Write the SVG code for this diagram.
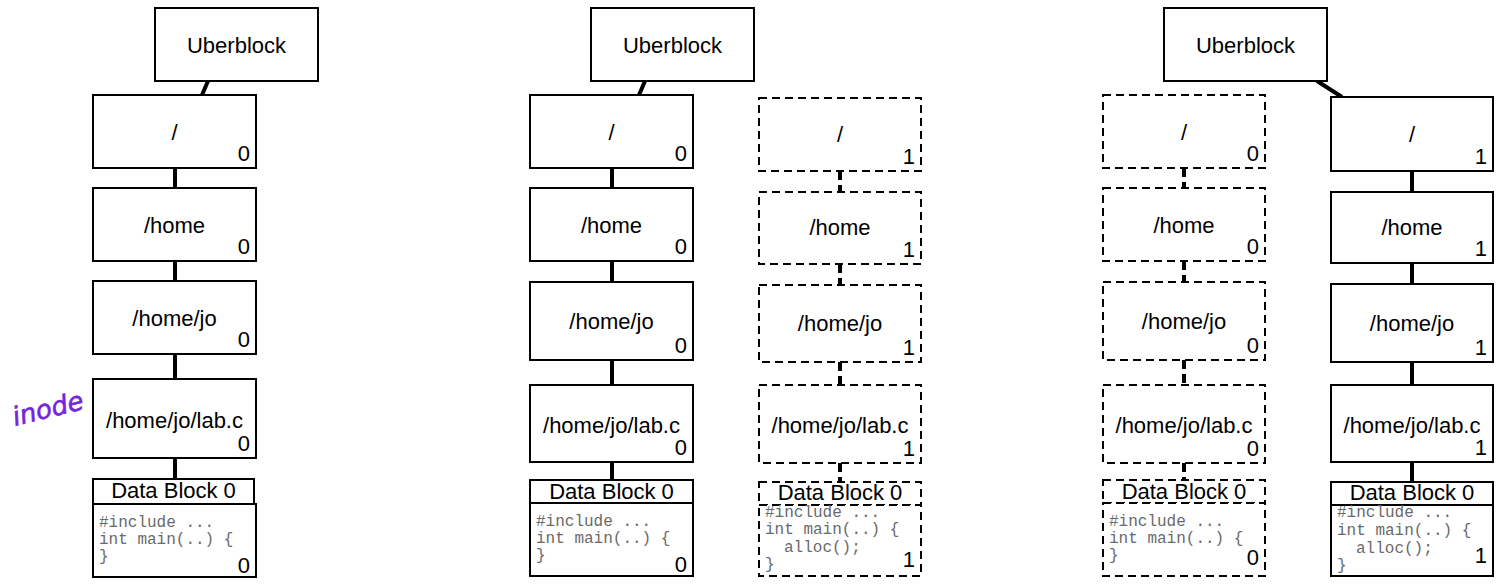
<svg xmlns="http://www.w3.org/2000/svg" width="1501" height="584" viewBox="0 0 1501 584">
  <style>
    .box { fill: #fff; stroke: #000; stroke-width: 2; }
    .dbox { fill: #fff; stroke: #000; stroke-width: 2; stroke-dasharray: 8 5; }
    .lbl { font-family: "Liberation Sans", Arial, sans-serif; font-size: 22px; fill: #000; text-anchor: middle; }
    .num { font-family: "Liberation Sans", Arial, sans-serif; font-size: 22px; fill: #000; text-anchor: end; }
    .code { font-family: "Liberation Mono", "Courier New", monospace; font-size: 16px; fill: #6a6a6a; }
    .link { stroke: #000; stroke-width: 4; fill: none; }
    .dlink { stroke: #000; stroke-width: 4; fill: none; stroke-dasharray: 9 5; }
    .note { font-family: "DejaVu Sans", sans-serif; font-size: 26px; fill: #7424e0; stroke: #7424e0; stroke-width: 0.6; font-style: italic; }
  </style>

  <!-- connectors -->
  <g id="connectors">
    <!-- before write -->
    <path class="link" d="M208 81 L202 95"/>
    <path class="link" d="M175 168 V188 M175 261 V281 M175 354 V379 M175 458 V479"/>
    <!-- after copy-on-write: old tree -->
    <path class="link" d="M645 81 L639 95"/>
    <path class="link" d="M612 168 V188 M612 261 V282 M612 360 V385 M612 462 V480"/>
    <!-- after copy-on-write: new tree -->
    <path class="dlink" d="M840 171 V192 M840 264 V285 M840 362 V385 M840 463 V482"/>
    <!-- after uberblock update -->
    <path class="dlink" d="M1184 168 V188 M1184 261 V282 M1184 360 V385 M1184 463 V480"/>
    <path class="link" d="M1317 81 L1342 97"/>
    <path class="link" d="M1412 171 V192 M1412 263 V284 M1412 362 V385 M1412 462 V482"/>
  </g>

  <!-- column 1: original tree -->
  <g id="c1-uber"><rect class="box" x="155" y="8" width="163" height="73"/><text class="lbl" x="236.5" y="53">Uberblock</text></g>
  <g id="c1-root"><rect class="box" x="93" y="95" width="163" height="73"/><text class="lbl" x="174.5" y="140">/</text><text class="num" x="250" y="161">0</text></g>
  <g id="c1-home"><rect class="box" x="93" y="188" width="163" height="73"/><text class="lbl" x="174.5" y="233">/home</text><text class="num" x="250" y="254">0</text></g>
  <g id="c1-jo"><rect class="box" x="93" y="281" width="163" height="73"/><text class="lbl" x="174.5" y="326">/home/jo</text><text class="num" x="250" y="347">0</text></g>
  <g id="c1-lab"><rect class="box" x="93" y="379" width="163" height="79"/><text class="lbl" x="174.5" y="428">/home/jo/lab.c</text><text class="num" x="250" y="451">0</text></g>
  <g id="c1-data">
    <rect class="box" x="93" y="479" width="161" height="25"/><text class="lbl" x="173.5" y="498">Data Block 0</text>
    <rect class="box" x="93" y="504" width="163" height="73"/>
    <text class="code" x="99" y="527">#include ...</text>
    <text class="code" x="99" y="544">int main(..) {</text>
    <text class="code" x="99" y="561">}</text>
    <text class="num" x="250" y="573">0</text>
  </g>

  <!-- column 2: old tree, still referenced -->
  <g id="c2-uber"><rect class="box" x="591" y="8" width="163" height="73"/><text class="lbl" x="672.5" y="53">Uberblock</text></g>
  <g id="c2-root"><rect class="box" x="530" y="95" width="163" height="73"/><text class="lbl" x="611.5" y="140">/</text><text class="num" x="687" y="161">0</text></g>
  <g id="c2-home"><rect class="box" x="530" y="188" width="163" height="73"/><text class="lbl" x="611.5" y="233">/home</text><text class="num" x="687" y="254">0</text></g>
  <g id="c2-jo"><rect class="box" x="530" y="282" width="163" height="78"/><text class="lbl" x="611.5" y="329">/home/jo</text><text class="num" x="687" y="353">0</text></g>
  <g id="c2-lab"><rect class="box" x="530" y="385" width="163" height="77"/><text class="lbl" x="611.5" y="433">/home/jo/lab.c</text><text class="num" x="687" y="455">0</text></g>
  <g id="c2-data">
    <rect class="box" x="530" y="480" width="163" height="23"/><text class="lbl" x="611.5" y="499">Data Block 0</text>
    <rect class="box" x="530" y="503" width="163" height="73"/>
    <text class="code" x="536" y="526">#include ...</text>
    <text class="code" x="536" y="543">int main(..) {</text>
    <text class="code" x="536" y="560">}</text>
    <text class="num" x="687" y="572">0</text>
  </g>

  <!-- column 3: new copies, not yet referenced -->
  <g id="c3-root"><rect class="dbox" x="759" y="98" width="162" height="73"/><text class="lbl" x="840" y="142">/</text><text class="num" x="915" y="164">1</text></g>
  <g id="c3-home"><rect class="dbox" x="759" y="192" width="162" height="72"/><text class="lbl" x="840" y="235">/home</text><text class="num" x="915" y="257">1</text></g>
  <g id="c3-jo"><rect class="dbox" x="759" y="285" width="162" height="77"/><text class="lbl" x="840" y="331">/home/jo</text><text class="num" x="915" y="355">1</text></g>
  <g id="c3-lab"><rect class="dbox" x="759" y="385" width="162" height="78"/><text class="lbl" x="840" y="433">/home/jo/lab.c</text><text class="num" x="915" y="456">1</text></g>
  <g id="c3-data">
    <rect class="dbox" x="759" y="482" width="162" height="23"/><text class="lbl" x="840" y="500">Data Block 0</text>
    <rect class="dbox" x="759" y="505" width="162" height="71"/>
    <text class="code" x="765" y="517">#include ...</text>
    <text class="code" x="765" y="534">int main(..) {</text>
    <text class="code" x="784" y="552">alloc();</text>
    <text class="code" x="765" y="569">}</text>
    <text class="num" x="915" y="567">1</text>
  </g>

  <!-- column 4: old tree, released -->
  <g id="c4-uber"><rect class="box" x="1164" y="8" width="163" height="73"/><text class="lbl" x="1245.5" y="53">Uberblock</text></g>
  <g id="c4-root"><rect class="dbox" x="1103" y="95" width="162" height="73"/><text class="lbl" x="1184" y="140">/</text><text class="num" x="1259" y="161">0</text></g>
  <g id="c4-home"><rect class="dbox" x="1103" y="188" width="162" height="73"/><text class="lbl" x="1184" y="233">/home</text><text class="num" x="1259" y="254">0</text></g>
  <g id="c4-jo"><rect class="dbox" x="1103" y="282" width="162" height="78"/><text class="lbl" x="1184" y="329">/home/jo</text><text class="num" x="1259" y="353">0</text></g>
  <g id="c4-lab"><rect class="dbox" x="1103" y="385" width="162" height="78"/><text class="lbl" x="1184" y="433">/home/jo/lab.c</text><text class="num" x="1259" y="456">0</text></g>
  <g id="c4-data">
    <rect class="dbox" x="1103" y="480" width="162" height="23"/><text class="lbl" x="1184" y="499">Data Block 0</text>
    <rect class="dbox" x="1103" y="503" width="162" height="73"/>
    <text class="code" x="1109" y="526">#include ...</text>
    <text class="code" x="1109" y="543">int main(..) {</text>
    <text class="code" x="1109" y="560">}</text>
    <text class="num" x="1259" y="565">0</text>
  </g>

  <!-- column 5: new tree, now live -->
  <g id="c5-root"><rect class="box" x="1331" y="97" width="162" height="74"/><text class="lbl" x="1412" y="142">/</text><text class="num" x="1487" y="164">1</text></g>
  <g id="c5-home"><rect class="box" x="1331" y="192" width="162" height="71"/><text class="lbl" x="1412" y="235">/home</text><text class="num" x="1487" y="256">1</text></g>
  <g id="c5-jo"><rect class="box" x="1331" y="284" width="162" height="78"/><text class="lbl" x="1412" y="331">/home/jo</text><text class="num" x="1487" y="355">1</text></g>
  <g id="c5-lab"><rect class="box" x="1331" y="385" width="162" height="77"/><text class="lbl" x="1412" y="433">/home/jo/lab.c</text><text class="num" x="1487" y="455">1</text></g>
  <g id="c5-data">
    <rect class="box" x="1331" y="482" width="162" height="23"/><text class="lbl" x="1412" y="500">Data Block 0</text>
    <rect class="box" x="1331" y="505" width="162" height="71"/>
    <text class="code" x="1337" y="517">#include ...</text>
    <text class="code" x="1337" y="535">int main(..) {</text>
    <text class="code" x="1356" y="553">alloc();</text>
    <text class="code" x="1337" y="570">}</text>
    <text class="num" x="1487" y="563">1</text>
  </g>

  <!-- handwritten annotation -->
  <g id="note-inode"><text class="note" x="15" y="426" transform="rotate(-14 15 426)">inode</text></g>
</svg>
